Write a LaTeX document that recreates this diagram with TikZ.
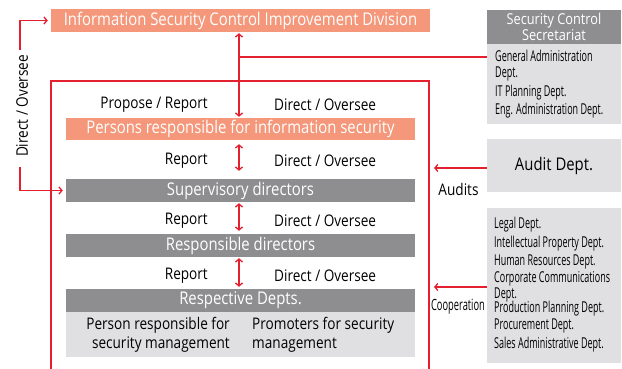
\documentclass[tikz,border=0pt]{standalone}
\usepackage{fontspec}
\setmainfont[FakeStretch=0.85]{Open Sans}
\newfontfamily\narrowfont[FakeStretch=0.6]{Open Sans}
\usetikzlibrary{arrows.meta}

\definecolor{salmon}{HTML}{F4977A}
\definecolor{bargray}{HTML}{8E8E91}
\definecolor{boxgray}{HTML}{E0E0E2}
\definecolor{linered}{HTML}{E4202E}

\tikzset{
  bar/.style={minimum width=349pt, minimum height=23pt, inner sep=0pt, text=white, font=\fontsize{17.5}{20}\selectfont},
  salmonbar/.style={bar, fill=salmon},
  graybar/.style={bar, fill=bargray},
  sidebox/.style={fill=boxgray, minimum width=134pt, inner sep=0pt},
  lbl/.style={inner sep=0pt, font=\fontsize{16}{19}\selectfont},
  deptline/.style={inner sep=0pt, anchor=base west, font=\narrowfont\fontsize{15}{16}\selectfont},
  redline/.style={draw=linered, line width=1.3pt},
  onearrow/.style={redline, -{Straight Barb[length=3pt,width=7pt]}},
  twoarrow/.style={redline, {Straight Barb[length=3pt,width=7pt]}-{Straight Barb[length=3pt,width=7pt]}},
}

\begin{document}
\begin{tikzpicture}[x=1pt, y=-1pt]
\useasboundingbox (0,0) rectangle (622,369);

% frame round the company
\draw[redline] (51,372) -- (51,81) -- (429,81) -- (429,372);

% bars of the hierarchy
\node[salmonbar, minimum width=379pt] (div) at (240.5,20.5) {Information Security Control Improvement Division};
\node[salmonbar, minimum height=22pt] (pers) at (240.5,129) {Persons responsible for information security};
\node[graybar] (sup) at (240.5,190.5) {Supervisory directors};
\node[graybar] (resp) at (240.5,245.5) {Responsible directors};
\node[graybar] (depts) at (240.5,300.5) {Respective Depts.};
\node[fill=boxgray, minimum width=349pt, minimum height=45pt, inner sep=0pt] (staff) at (240.5,334.5) {};
\node[lbl, anchor=east, align=right] (prsm) at (230,335) {Person responsible for\\security management};
\node[lbl, anchor=west, align=left] (prom) at (252,335) {Promoters for security\\management};

% labels between the bars
\node[lbl, anchor=east] (prop) at (208,105) {Propose / Report};
\node[lbl, anchor=west] (dir0) at (274,105) {Direct / Oversee};
\foreach \y [count=\i] in {161,221,276} {
  \node[lbl, anchor=east] (rep\i) at (208,\y) {Report};
  \node[lbl, anchor=west] (dir\i) at (274,\y) {Direct / Oversee};
}

% arrows along the axis
\coordinate (axis) at (239,0);
\draw[twoarrow, shorten <=1pt, shorten >=1pt] (div.south -| axis) -- (pers.north -| axis);
\foreach \a/\b/\s/\t in {pers/sup/4/8, sup/resp/1/3, resp/depts/1/2}
  \draw[twoarrow, shorten <=\s pt, shorten >=\t pt] (\a.south -| axis) -- (\b.north -| axis);

% left bracket
\node[lbl, rotate=90] (ovs) at (22,106) {Direct / Oversee};
\coordinate (ovtop) at (20,50);
\coordinate (ovbot) at (20,167);
\draw[onearrow, shorten >=3pt] (ovtop) |- (div.west);
\draw[onearrow, shorten >=3pt] (ovbot) |- (sup.west);

% secretariat
\node[sidebox, fill=bargray, minimum height=34pt, text=white, align=center, font=\fontsize{15}{16}\selectfont] (sechead) at (554,27) {Security Control\\Secretariat};
\node[sidebox, minimum height=80pt] (secbody) at (554,84) {};
\foreach \t/\y [count=\i] in {General Administration/62, Dept./78, IT Planning Dept./97, Eng. Administration Dept./114}
  \node[deptline] (sec\i) at (495,\y) {\t};
\coordinate (tee) at (239,57);
\draw[redline] (tee) -- (tee -| secbody.west);

% audit
\node[sidebox, minimum height=53pt, font=\fontsize{17.5}{20}\selectfont] (audit) at (554,165.5) {Audit Dept.};
\coordinate (auditto) at (434,168);
\draw[onearrow] (auditto -| audit.west) -- (auditto);
\node[lbl] (auditlbl) at (458.5,189) {Audits};

% cooperating departments
\node[sidebox, minimum height=155pt] (coop) at (554,285.5) {};
\foreach \t/\y [count=\i] in {Legal Dept./228, Intellectual Property Dept./247, Human Resources Dept./265, Corporate Communications/282, Dept./298, Production Planning Dept./312, Procurement Dept./329, Sales Administrative Dept./348}
  \node[deptline] (co\i) at (494,\y) {\t};
\coordinate (coopto) at (434,287);
\draw[onearrow] (coopto -| coop.west) -- (coopto);
\node[deptline, anchor=center, font=\narrowfont\fontsize{15.5}{17}\selectfont] (cooplbl) at (458,307) {Cooperation};
\end{tikzpicture}
\end{document}
